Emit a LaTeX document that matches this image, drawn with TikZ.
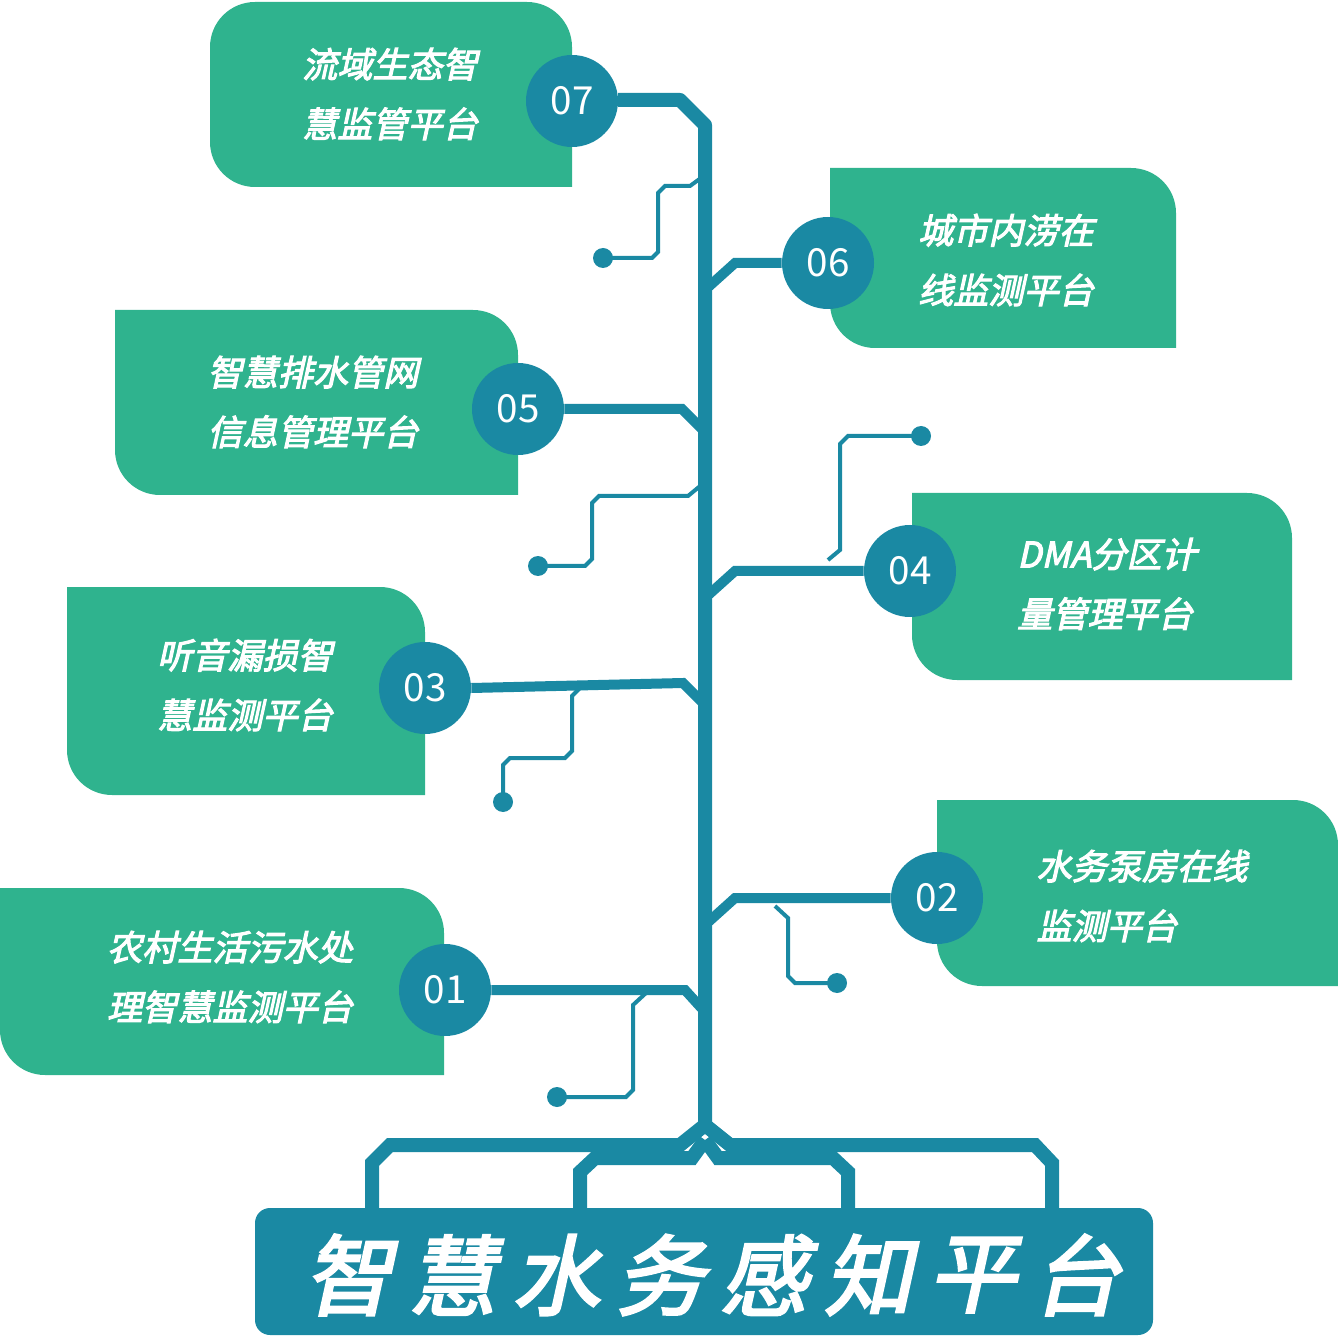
\documentclass[tikz,border=0pt]{standalone}
\usepackage{fontspec}
\usetikzlibrary{calc}
\newfontfamily\cjk[FakeSlant=0.22,FakeBold=3]{Noto Sans CJK SC}
\newfontfamily\numfont{Noto Sans CJK SC}
\definecolor{leaf}{HTML}{2FB38E}
\definecolor{stem}{HTML}{1A89A3}

\tikzset{
  trunk/.style={stem, line width=14*0.02cm},
  branch/.style={stem, line width=10*0.02cm},
  wire/.style={stem, line width=4*0.02cm},
  num/.style={circle, fill=stem, minimum size=92*0.02cm, inner sep=0pt, text=white, font=\numfont\fontsize{22}{22}\selectfont},
  label/.style={text=white, align=left, font=\cjk\fontsize{20}{34}\selectfont},
}
% left box: round top-right and bottom-left
\newcommand{\leftbox}[4]{\fill[leaf] (#1,#2) [rounded corners=0.9cm] -- (#3,#2) [sharp corners] -- (#3,#4) [rounded corners=0.9cm] -- (#1,#4) [sharp corners] -- cycle;}
% right box: round top-left and bottom-right
\newcommand{\rightbox}[4]{\fill[leaf] (#3,#2) [sharp corners] -- (#3,#4) [rounded corners=0.9cm] -- (#1,#4) [sharp corners] -- (#1,#2) [rounded corners=0.9cm] -- cycle;}

\begin{document}
\begin{tikzpicture}[x=0.02cm, y=-0.02cm]
  \useasboundingbox (0,0) rectangle (1338,1337);

  %BOXES
  \fill[leaf] (210,187) [rounded corners=0.9cm] -- (210,2) -- (572,2) [sharp corners] -- (572,187) [rounded corners=0.9cm] -- cycle;
  \rightbox{830}{168}{1176}{348}
  \leftbox{115}{310}{518}{495}
  \rightbox{912}{493}{1292}{680}
  \leftbox{67}{587}{425}{795}
  \rightbox{937}{800}{1338}{986}
  \leftbox{0}{888}{444}{1075}

  %TRUNK
  \draw[trunk, line join=round] (618,100) -- (680,100) -- (705,125) -- (705,1125);
  \coordinate (root) at (705,1125);
  \draw[trunk] (root) -- (680,1145) -- (390,1145) -- (372,1163) -- (372,1212);
  \draw[trunk] (root) -- (730,1145) -- (1035,1145) -- (1052,1163) -- (1052,1212);
  \draw[trunk] (580,1212) -- (580,1172) -- (595,1158) -- (692,1158) -- (705,1140);
  \draw[trunk] (848,1212) -- (848,1172) -- (833,1158) -- (718,1158) -- (705,1140);

  %NUMBERS
  \node[num] (c7) at (572,101) {07};
  \node[num] (c6) at (828,263) {06};
  \node[num] (c5) at (518,409) {05};
  \node[num] (c4) at (910,571) {04};
  \node[num] (c3) at (425,688) {03};
  \node[num] (c2) at (937,898) {02};
  \node[num] (c1) at (445,990) {01};

  %BRANCHES
  \draw[branch] (c6.west) -- (735,263) -- (705,290);
  \draw[branch] (c5.east) -- (682,409) -- (705,432);
  \draw[branch] (c4.west) -- (735,571) -- (705,598);
  \draw[branch] (c3.east) -- (683,683) -- (705,705);
  \draw[branch] (c2.west) -- (735,898) -- (705,925);
  \draw[branch] (c1.east) -- (685,990) -- (705,1012);

  %WIRES
  \foreach \a/\b in {603/258, 538/566, 921/436, 503/802, 837/983, 557/1097}
    \fill[stem] (\a,\b) circle (0.2cm);
  \draw[wire] (603,258) -- (652,258) -- (658,252) -- (658,193) -- (665,186) -- (690,186) -- (705,175);
  \draw[wire] (538,566) -- (585,566) -- (592,559) -- (592,503) -- (599,496) -- (688,496) -- (705,482);
  \draw[wire] (921,436) -- (848,436) -- (840,444) -- (840,550) -- (828,560);
  \draw[wire] (503,802) -- (503,765) -- (510,758) -- (565,758) -- (572,751) -- (572,696) -- (582,686);
  \draw[wire] (837,983) -- (795,983) -- (788,976) -- (788,918) -- (775,906);
  \draw[wire] (557,1097) -- (626,1097) -- (633,1090) -- (633,1005) -- (646,993);

  %LABELS
  \node[label] (t7) at (390,94) {流域生态智\\慧监管平台};
  \node[label] (t6) at (1006,260) {城市内涝在\\线监测平台};
  \node[label] (t5) at (313,402) {智慧排水管网\\信息管理平台};
  \node[label] (t4) at (1107,584) {DMA分区计\\量管理平台};
  \node[label] (t3) at (245,685) {听音漏损智\\慧监测平台};
  \node[label] (t2) at (1142,896) {水务泵房在线\\监测平台};
  \node[label] (t1) at (230,977) {农村生活污水处\\理智慧监测平台};

  %TITLE
  \fill[stem, rounded corners=0.3cm] (255,1208) rectangle (1153,1335);
  \foreach \ch [count=\i from 0] in {智,慧,水,务,感,知,平,台}
    \node[text=white, font=\cjk\fontsize{50}{50}\selectfont] (h\i) at (348+\i*104,1275) {\ch};
\end{tikzpicture}
\end{document}
